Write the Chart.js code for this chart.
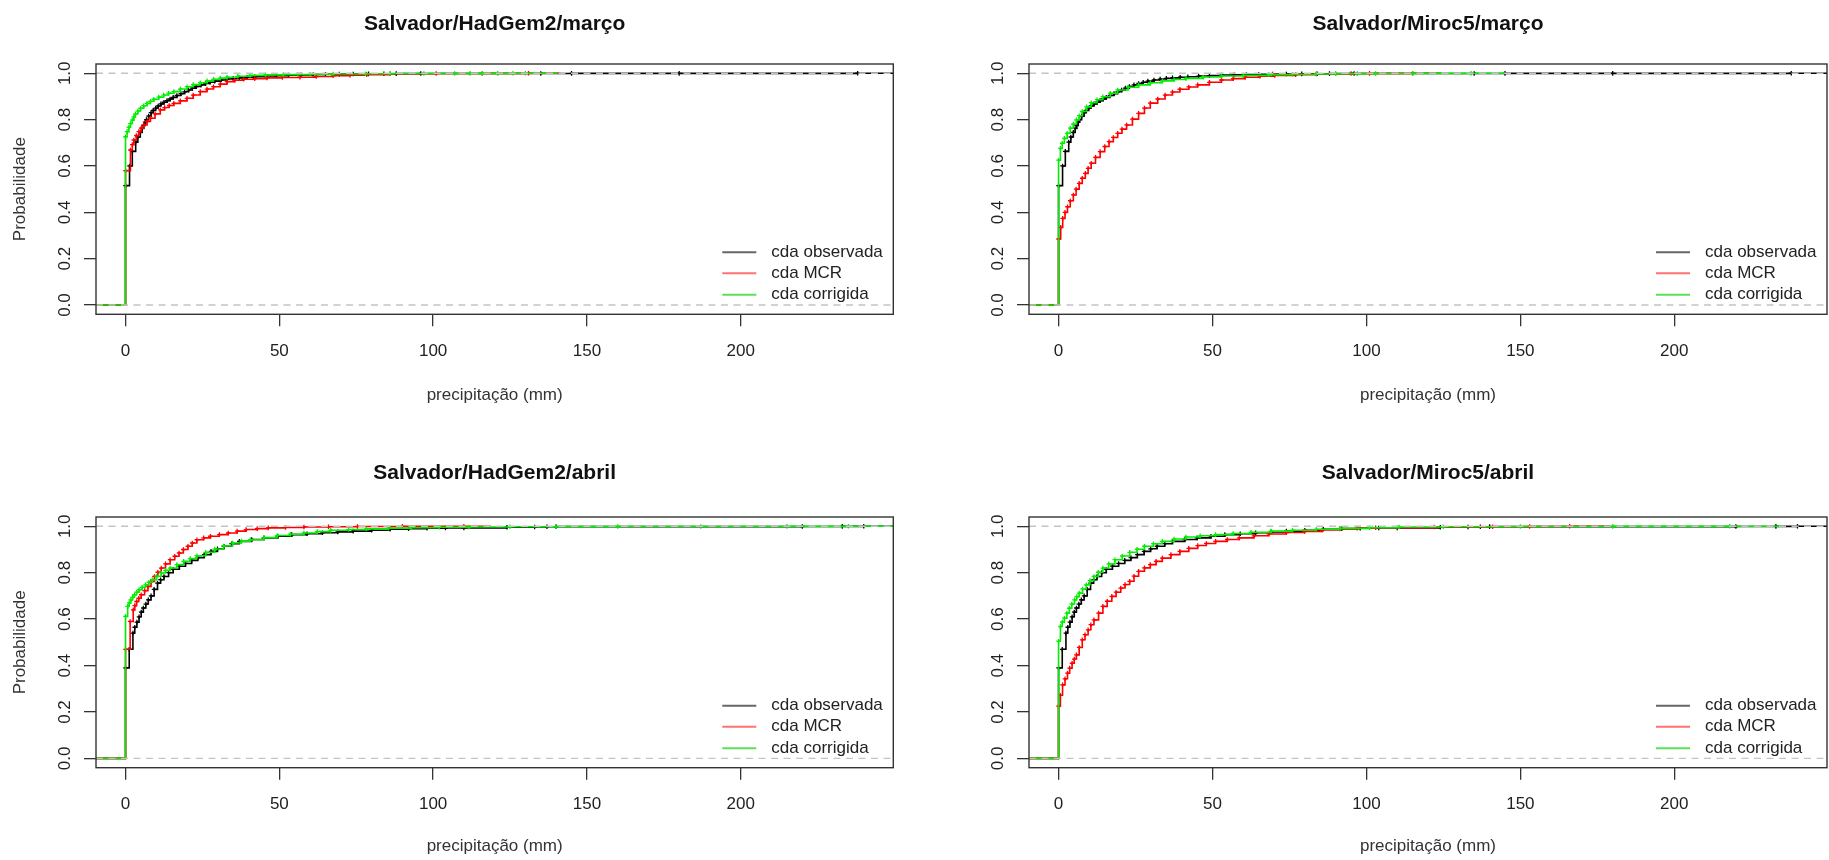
<!DOCTYPE html>
<html lang="pt">
<head>
<meta charset="UTF-8">
<title>Salvador - cda da precipitação</title>
<script src="https://cdn.jsdelivr.net/npm/chart.js"></script>
<style>
  body { margin: 0; background: #fff; }
  #wrap { position: relative; width: 1829px; height: 860px; overflow: hidden; }
  #wrap canvas { position: absolute; }
</style>
</head>
<body>
<div id="wrap">
  <canvas id="p1" width="914" height="430" style="left:0;top:0"></canvas>
  <canvas id="p2" width="915" height="430" style="left:914px;top:0"></canvas>
  <canvas id="p3" width="914" height="430" style="left:0;top:430px"></canvas>
  <canvas id="p4" width="915" height="430" style="left:914px;top:430px"></canvas>
</div>
<script>
// axis ticks and labels
const xTicks = [0, 50, 100, 150, 200];
const yTicks = [0, 0.2, 0.4, 0.6, 0.8, 1.0];
const seriesNames = ['cda observada', 'cda MCR', 'cda corrigida'];
const panelTitles = ['Salvador/HadGem2/março', 'Salvador/Miroc5/março',
                     'Salvador/HadGem2/abril', 'Salvador/Miroc5/abril'];

// observed record, março (shared by both models)
const obsMarX = [0, 1.3, 2.2, 3.3, 4.0, 4.8, 5.4, 5.9, 6.4, 6.8, 7.5, 8.3, 9.0, 9.8, 10.6, 11.5, 12.5, 13.5, 14.5, 15.5, 16.7, 18, 19.2, 20.5, 21.7, 23, 24.5, 26, 27.5, 29, 31, 33, 35, 37, 39.5, 42, 45.5, 49, 53, 57, 61, 65, 69.5, 74, 79, 84, 88, 96, 135, 145, 180, 238];
const obsMarF = [0.515, 0.600, 0.663, 0.703, 0.725, 0.745, 0.762, 0.775, 0.789, 0.800, 0.815, 0.830, 0.840, 0.850, 0.859, 0.868, 0.875, 0.882, 0.889, 0.896, 0.904, 0.912, 0.920, 0.928, 0.936, 0.943, 0.950, 0.956, 0.961, 0.966, 0.971, 0.975, 0.978, 0.980, 0.983, 0.985, 0.988, 0.990, 0.992, 0.993, 0.995, 0.996, 0.9965, 0.997, 0.9975, 0.998, 0.9985, 0.999, 0.9993, 0.9995, 0.9997, 1.0];

// HadGem2, março
const hadMarMcrX = [0, 1.6, 2.2, 2.7, 3.5, 4.3, 5.1, 5.9, 7.0, 8.1, 9.6, 11.3, 12.7, 14.2, 15.7, 17.8, 20, 22, 24.3, 26.5, 28.6, 30.8, 33, 35.5, 38.4, 42, 46, 51, 56.7, 62, 67.5, 73, 78.4, 86, 101, 116, 131];
const hadMarMcrF = [0.58, 0.669, 0.692, 0.712, 0.731, 0.748, 0.763, 0.777, 0.792, 0.806, 0.825, 0.842, 0.852, 0.861, 0.870, 0.881, 0.892, 0.906, 0.921, 0.932, 0.942, 0.953, 0.964, 0.970, 0.974, 0.977, 0.980, 0.982, 0.983, 0.986, 0.989, 0.992, 0.994, 0.998, 0.999, 0.9995, 1.0];
const hadMarCorX = [0, 0.5, 1.1, 1.6, 2.2, 2.7, 3.2, 4.0, 4.9, 5.9, 7.0, 8.1, 9.2, 10.8, 12.4, 14.0, 15.7, 17.8, 20, 22, 24.3, 26.5, 28.6, 30.8, 33, 36.5, 40.5, 45.5, 51.3, 56, 60, 67.5, 78, 86, 97, 107, 112, 116, 121, 126, 130];
const hadMarCorF = [0.726, 0.748, 0.767, 0.783, 0.798, 0.812, 0.824, 0.837, 0.849, 0.860, 0.870, 0.879, 0.888, 0.897, 0.906, 0.914, 0.921, 0.932, 0.942, 0.951, 0.959, 0.967, 0.974, 0.979, 0.983, 0.987, 0.991, 0.993, 0.994, 0.995, 0.996, 0.997, 0.998, 0.9987, 0.999, 0.9992, 0.9994, 0.9996, 0.9997, 0.9998, 1.0];

// Miroc5, março
const mirMarMcrX = [0, 0.7, 1.35, 2.1, 2.9, 3.8, 4.8, 5.7, 6.7, 7.7, 8.7, 9.6, 10.6, 12, 13.5, 15, 16.4, 17.8, 19.2, 20.6, 22.1, 24, 26, 27.9, 29.8, 32.2, 34.6, 37, 39.4, 42.3, 45.2, 49, 52.9, 56.7, 60.6, 65.4, 70.2, 77, 83.7, 90, 95, 101, 115];
const mirMarMcrF = [0.285, 0.335, 0.374, 0.400, 0.424, 0.450, 0.475, 0.500, 0.525, 0.547, 0.568, 0.590, 0.612, 0.637, 0.662, 0.684, 0.705, 0.723, 0.741, 0.759, 0.777, 0.802, 0.827, 0.850, 0.871, 0.889, 0.906, 0.919, 0.931, 0.941, 0.950, 0.961, 0.971, 0.977, 0.983, 0.987, 0.991, 0.994, 0.997, 0.998, 0.999, 0.9995, 1.0];
const mirMarCorX = [0, 0.6, 1.2, 1.9, 2.8, 3.8, 4.8, 5.8, 6.7, 7.7, 9.1, 10.6, 12.5, 14.4, 16.8, 19.2, 22.6, 26, 29.8, 33.7, 37.5, 41.4, 47, 52.9, 60, 68.3, 76, 83.7, 90, 97, 103, 115, 134];
const mirMarCorF = [0.625, 0.676, 0.698, 0.719, 0.741, 0.763, 0.781, 0.799, 0.817, 0.835, 0.855, 0.873, 0.886, 0.899, 0.914, 0.928, 0.940, 0.950, 0.959, 0.967, 0.973, 0.978, 0.984, 0.988, 0.991, 0.994, 0.996, 0.997, 0.998, 0.9985, 0.999, 0.9995, 1.0];

// observed record, abril
const obsAbrX = [0, 1.2, 2.4, 3.0, 3.7, 4.4, 5.1, 5.8, 6.6, 7.4, 8.3, 9.3, 10.4, 11.4, 12.5, 14, 15.5, 17.5, 19.5, 21.5, 23.5, 25.6, 27.8, 29.9, 32, 34.5, 37, 41, 45, 49.5, 54, 59, 64, 69, 74, 80, 86, 92, 98, 104, 110, 124, 133, 137, 140, 220, 233, 240];
const obsAbrF = [0.39, 0.47, 0.54, 0.565, 0.587, 0.610, 0.63, 0.648, 0.665, 0.683, 0.70, 0.728, 0.755, 0.770, 0.784, 0.800, 0.815, 0.828, 0.84, 0.853, 0.865, 0.878, 0.892, 0.903, 0.914, 0.925, 0.935, 0.943, 0.95, 0.957, 0.964, 0.968, 0.972, 0.976, 0.979, 0.983, 0.987, 0.990, 0.992, 0.9925, 0.993, 0.996, 0.997, 0.998, 0.9985, 0.999, 0.9995, 1.0];

// HadGem2, abril
const hadAbrMcrX = [0, 1.5, 2.5, 3.0, 3.6, 4.3, 5.1, 6.2, 7.3, 8.3, 9.4, 10.5, 11.6, 13, 14.5, 16, 17.4, 18.8, 20.3, 21.7, 23.2, 25.4, 27.6, 30.5, 33.4, 36.3, 39.2, 42.8, 46.4, 52, 58, 66, 75.4, 90, 110];
const hadAbrMcrF = [0.47, 0.59, 0.64, 0.658, 0.676, 0.690, 0.705, 0.723, 0.741, 0.762, 0.784, 0.802, 0.82, 0.838, 0.856, 0.871, 0.885, 0.900, 0.914, 0.928, 0.942, 0.950, 0.957, 0.964, 0.971, 0.979, 0.986, 0.990, 0.993, 0.995, 0.997, 0.998, 0.9993, 0.9996, 1.0];
const hadAbrCorX = [0, 0.7, 1.2, 1.7, 2.3, 2.9, 3.6, 4.4, 5.4, 6.5, 7.6, 8.7, 10.1, 11.6, 13, 14.5, 16.7, 18.9, 21, 23.2, 26.1, 29, 31.9, 34.8, 37.7, 40.6, 45, 49.3, 53.6, 58, 62.3, 66.7, 72.5, 78.3, 85.5, 92.8, 102, 111.7, 125, 140, 160, 187, 215, 235];
const hadAbrCorF = [0.612, 0.655, 0.670, 0.683, 0.694, 0.705, 0.716, 0.727, 0.737, 0.748, 0.759, 0.77, 0.785, 0.799, 0.810, 0.82, 0.835, 0.849, 0.861, 0.873, 0.888, 0.902, 0.915, 0.928, 0.936, 0.942, 0.951, 0.96, 0.966, 0.971, 0.977, 0.983, 0.986, 0.989, 0.992, 0.994, 0.996, 0.997, 0.998, 0.9985, 0.999, 0.9993, 0.9996, 1.0];

// Miroc5, abril
const mirAbrMcrX = [0, 0.6, 1.3, 2.1, 2.9, 3.6, 4.4, 5.1, 5.8, 6.7, 7.7, 8.6, 9.6, 10.5, 11.5, 13, 14.4, 15.8, 17.3, 18.7, 20.2, 21.6, 23.1, 24.5, 26, 27.9, 29.8, 31.7, 33.7, 36.5, 39.4, 42.3, 45.2, 48, 51, 54.8, 58.7, 63.5, 68.3, 74, 79.9, 85.6, 91.4, 97, 103, 122, 141, 153, 166];
const mirAbrMcrF = [0.225, 0.272, 0.317, 0.343, 0.367, 0.389, 0.41, 0.428, 0.446, 0.478, 0.511, 0.533, 0.554, 0.576, 0.597, 0.626, 0.655, 0.677, 0.698, 0.716, 0.734, 0.749, 0.763, 0.785, 0.806, 0.821, 0.835, 0.849, 0.863, 0.878, 0.892, 0.905, 0.917, 0.926, 0.935, 0.943, 0.95, 0.959, 0.967, 0.973, 0.978, 0.984, 0.989, 0.992, 0.994, 0.997, 0.998, 0.999, 1.0];
const mirAbrCorX = [0, 0.6, 1.2, 1.9, 2.7, 3.5, 4.3, 5.2, 5.9, 6.7, 7.8, 9, 10.2, 11.5, 12.9, 14.4, 16.3, 18.3, 20.7, 23.1, 25.5, 27.9, 30.8, 33.7, 37.5, 41.4, 46, 51, 56.7, 62.5, 69, 76, 83.7, 91.4, 101, 110.6, 125, 150, 180, 218];
const mirAbrCorF = [0.505, 0.568, 0.587, 0.604, 0.626, 0.647, 0.665, 0.683, 0.697, 0.712, 0.730, 0.748, 0.766, 0.784, 0.802, 0.82, 0.838, 0.856, 0.872, 0.888, 0.901, 0.914, 0.925, 0.935, 0.945, 0.954, 0.959, 0.964, 0.969, 0.974, 0.979, 0.983, 0.987, 0.991, 0.994, 0.997, 0.998, 0.999, 0.9995, 1.0];

const X_MIN = -9.6, X_MAX = 249.6;
const FONT = '"Liberation Sans", Arial, sans-serif';
Chart.defaults.font.family = FONT;

const lineColors = ['#000000', '#ff0000', '#00ee00'];
const legendColors = ['rgba(0,0,0,0.6)', 'rgba(255,0,0,0.55)', 'rgba(0,210,0,0.65)'];

// ecdf as step line: flat at 0 on the left, knots, then flat at 1 a bit past the last knot
function ecdfPoints(xs, fs) {
  const last = xs[xs.length - 1];
  const pts = [{ x: -20, y: 0 }];
  xs.forEach((x, i) => pts.push({ x: x, y: fs[i] }));
  pts.push({ x: last * 1.08, y: 1 });
  return pts;
}

function ecdfDataset(label, xs, fs, color, order) {
  const n = xs.length + 2;
  return {
    label: label,
    data: ecdfPoints(xs, fs),
    stepped: 'before',
    borderColor: color,
    borderWidth: 1.6,
    pointStyle: 'cross',
    pointRadius: ctx => (ctx.dataIndex === 0 || ctx.dataIndex === n - 1) ? 0 : 2.3,
    pointBorderColor: color,
    pointBorderWidth: 1.3,
    order: order
  };
}

function refLine(level) {
  return {
    label: 'ref' + level,
    data: [{ x: X_MIN, y: level }, { x: X_MAX, y: level }],
    borderColor: '#c4c4c4',
    borderWidth: 1.4,
    borderDash: [7, 5.5],
    pointRadius: 0,
    order: 0
  };
}

// box, rotated y labels, title and legend in the style of base R graphics
const rStyle = {
  id: 'rStyle',
  afterDraw(chart, args, opts) {
    const { ctx, chartArea: a } = chart;
    const ys = chart.scales.y;
    ctx.save();
    ctx.strokeStyle = '#333';
    ctx.lineWidth = 1.4;
    ctx.strokeRect(a.left, a.top, a.right - a.left, a.bottom - a.top);

    ctx.fillStyle = '#222';
    ctx.font = '17px ' + FONT;
    ctx.textAlign = 'center';
    ctx.textBaseline = 'middle';
    yTicks.forEach(v => {
      ctx.save();
      ctx.translate(a.left - 31, ys.getPixelForValue(v));
      ctx.rotate(-Math.PI / 2);
      ctx.fillText(v.toFixed(1), 0, 0);
      ctx.restore();
    });

    ctx.fillStyle = '#111';
    ctx.font = 'bold 21px ' + FONT;
    ctx.fillText(opts.title, (a.left + a.right) / 2, a.top - opts.titleGap);

    ctx.font = '17px ' + FONT;
    ctx.textAlign = 'left';
    const rows = [62, 41, 19.5];
    seriesNames.forEach((name, i) => {
      const y = a.bottom - rows[i];
      ctx.strokeStyle = legendColors[i];
      ctx.lineWidth = 2;
      ctx.beginPath();
      ctx.moveTo(a.right - 171, y);
      ctx.lineTo(a.right - 137, y);
      ctx.stroke();
      ctx.fillStyle = '#222';
      ctx.fillText(name, a.right - 122, y);
    });
    ctx.restore();
  }
};

function makePanel(id, title, obs, mcr, cor, box, yTitle, xTitlePad, titleGap) {
  const canvas = document.getElementById(id);
  const w = canvas.width, h = canvas.height;
  const tickGrid = {
    drawOnChartArea: false,
    drawTicks: true,
    tickLength: 12,
    color: '#333',
    lineWidth: 1.3
  };
  return new Chart(canvas, {
    type: 'line',
    data: {
      datasets: [
        refLine(0), refLine(1),
        ecdfDataset(seriesNames[2], cor[0], cor[1], lineColors[2], 1),
        ecdfDataset(seriesNames[1], mcr[0], mcr[1], lineColors[1], 2),
        ecdfDataset(seriesNames[0], obs[0], obs[1], lineColors[0], 3)
      ]
    },
    options: {
      responsive: false,
      animation: false,
      devicePixelRatio: 1,
      layout: { padding: { left: 0, top: box.top, right: w - box.right, bottom: 0 } },
      plugins: {
        legend: { display: false },
        tooltip: { enabled: false },
        rStyle: { title: title, titleGap: titleGap }
      },
      scales: {
        x: {
          type: 'linear',
          min: X_MIN,
          max: X_MAX,
          afterBuildTicks: s => { s.ticks = xTicks.map(v => ({ value: v })); },
          afterFit: s => { s.height = h - box.bottom; },
          ticks: { font: { size: 17 }, color: '#222', padding: 14.5, maxRotation: 0, autoSkip: false },
          grid: tickGrid,
          border: { display: false },
          title: {
            display: true, text: 'precipitação (mm)', color: '#333',
            font: { size: 17 }, padding: { top: 0, bottom: xTitlePad }
          }
        },
        y: {
          type: 'linear',
          min: -0.04,
          max: 1.04,
          afterBuildTicks: s => { s.ticks = yTicks.map(v => ({ value: v })); },
          afterFit: s => { s.width = box.left; },
          ticks: { display: false },
          grid: tickGrid,
          border: { display: false },
          title: {
            display: yTitle, text: 'Probabilidade', color: '#333',
            font: { size: 17 }, padding: { top: 9.8, bottom: 0 }
          }
        }
      }
    },
    plugins: [rStyle]
  });
}

makePanel('p1', panelTitles[0], [obsMarX, obsMarF], [hadMarMcrX, hadMarMcrF], [hadMarCorX, hadMarCorF],
  { left: 96, top: 64, right: 893.3, bottom: 314.3 }, true, 24.8, 39.5);
makePanel('p2', panelTitles[1], [obsMarX, obsMarF], [mirMarMcrX, mirMarMcrF], [mirMarCorX, mirMarCorF],
  { left: 115, top: 64, right: 913, bottom: 314.3 }, false, 24.8, 39.5);
makePanel('p3', panelTitles[2], [obsAbrX, obsAbrF], [hadAbrMcrX, hadAbrMcrF], [hadAbrCorX, hadAbrCorF],
  { left: 96, top: 87, right: 893.3, bottom: 337.7 }, true, 3.1, 43.7);
makePanel('p4', panelTitles[3], [obsAbrX, obsAbrF], [mirAbrMcrX, mirAbrMcrF], [mirAbrCorX, mirAbrCorF],
  { left: 115, top: 87, right: 913, bottom: 337.7 }, false, 3.1, 43.7);
</script>
</body>
</html>
